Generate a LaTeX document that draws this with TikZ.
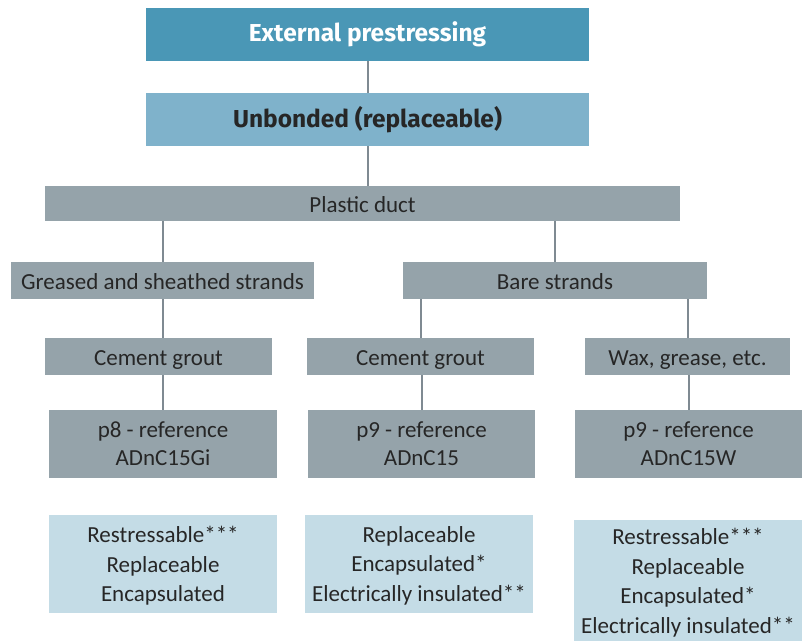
\documentclass[tikz,border=0pt]{standalone}
\usepackage{fontspec}
\setmainfont{Carlito}
\newfontfamily\headfont{Fira Sans}
\definecolor{headblue}{HTML}{4A97B6}
\definecolor{subblue}{HTML}{7FB2CB}
\definecolor{boxgrey}{HTML}{95A3AA}
\definecolor{propblue}{HTML}{C4DCE6}
\definecolor{linegrey}{HTML}{7F8A92}
\tikzstyle{head}=[rectangle,fill=headblue,text=white,inner sep=0pt,font=\headfont\bfseries\fontsize{24.5}{28}\selectfont]
\tikzstyle{sub}=[rectangle,fill=subblue,text=black!85,inner sep=0pt,font=\headfont\bfseries\fontsize{24.5}{28}\selectfont]
\tikzstyle{grey}=[rectangle,fill=boxgrey,text=black!85,inner sep=0pt,align=center,font=\fontsize{23}{28}\selectfont]
\tikzstyle{single}=[grey,text height=19pt,text depth=2pt]
\tikzstyle{refbox}=[grey,text depth=-6pt]
\tikzstyle{prop}=[rectangle,fill=propblue,text=black!85,inner sep=0pt,align=center,text depth=-9pt,font=\fontsize{23}{29.5}\selectfont]
\tikzstyle{link}=[draw=linegrey,line width=2pt]

\begin{document}
\begin{tikzpicture}[x=1pt,y=-1pt]
\useasboundingbox (0,0) rectangle (811,640);

\node[head,minimum width=443pt,minimum height=53pt] (ext) at (367.5,34.5) {External prestressing};
\node[sub,minimum width=443pt,minimum height=53pt] (unb) at (367.5,119.5) {Unbonded (replaceable)};
\node[single,minimum width=635pt,minimum height=35pt] (duct) at (362.5,203.5) {Plastic duct};

\node[single,minimum width=303pt,minimum height=37pt] (greased) at (162.5,280.5) {Greased and sheathed strands};
\node[single,minimum width=304pt,minimum height=37pt] (bare) at (555,280.5) {Bare strands};

\node[single,minimum width=227pt,minimum height=37pt] (cg1) at (158.5,356.5) {Cement grout};
\node[single,minimum width=227pt,minimum height=37pt] (cg2) at (420.5,356.5) {Cement grout};
\node[single,minimum width=205pt,minimum height=37pt] (wax) at (687.5,356.5) {Wax, grease, etc.};

\node[refbox,minimum width=228pt,minimum height=68pt] (ref1) at (163,444) {p8 - reference\\ADnC15Gi};
\node[refbox,minimum width=227pt,minimum height=68pt] (ref2) at (421.5,444) {p9 - reference\\ADnC15};
\node[refbox,minimum width=227pt,minimum height=68pt] (ref3) at (688.5,444) {p9 - reference\\ADnC15W};

\node[prop,minimum width=228pt,minimum height=98pt] (prop1) at (163,564) {Restressable***\\Replaceable\\Encapsulated};
\node[prop,minimum width=228pt,minimum height=98pt] (prop2) at (419,564) {Replaceable\\Encapsulated*\\Electrically insulated**};
\node[prop,minimum width=228pt,minimum height=123pt] (prop3) at (688,581) {Restressable***\\Replaceable\\Encapsulated*\\Electrically insulated**};

\draw[link] (ext.south) -- (unb.north);
\draw[link] (unb.south) -- (unb.south |- duct.north);
\draw[link] (greased.north) -- (greased.north |- duct.south);
\draw[link] (bare.north) -- (bare.north |- duct.south);
\draw[link] (greased.south) -- (greased.south |- cg1.north);
\draw[link] (cg2.north) -- (cg2.north |- bare.south);
\draw[link] (wax.north) -- (wax.north |- bare.south);
\draw[link] (ref1.north) -- (ref1.north |- cg1.south);
\draw[link] (ref2.north) -- (ref2.north |- cg2.south);
\draw[link] (ref3.north) -- (ref3.north |- wax.south);

\end{tikzpicture}
\end{document}
